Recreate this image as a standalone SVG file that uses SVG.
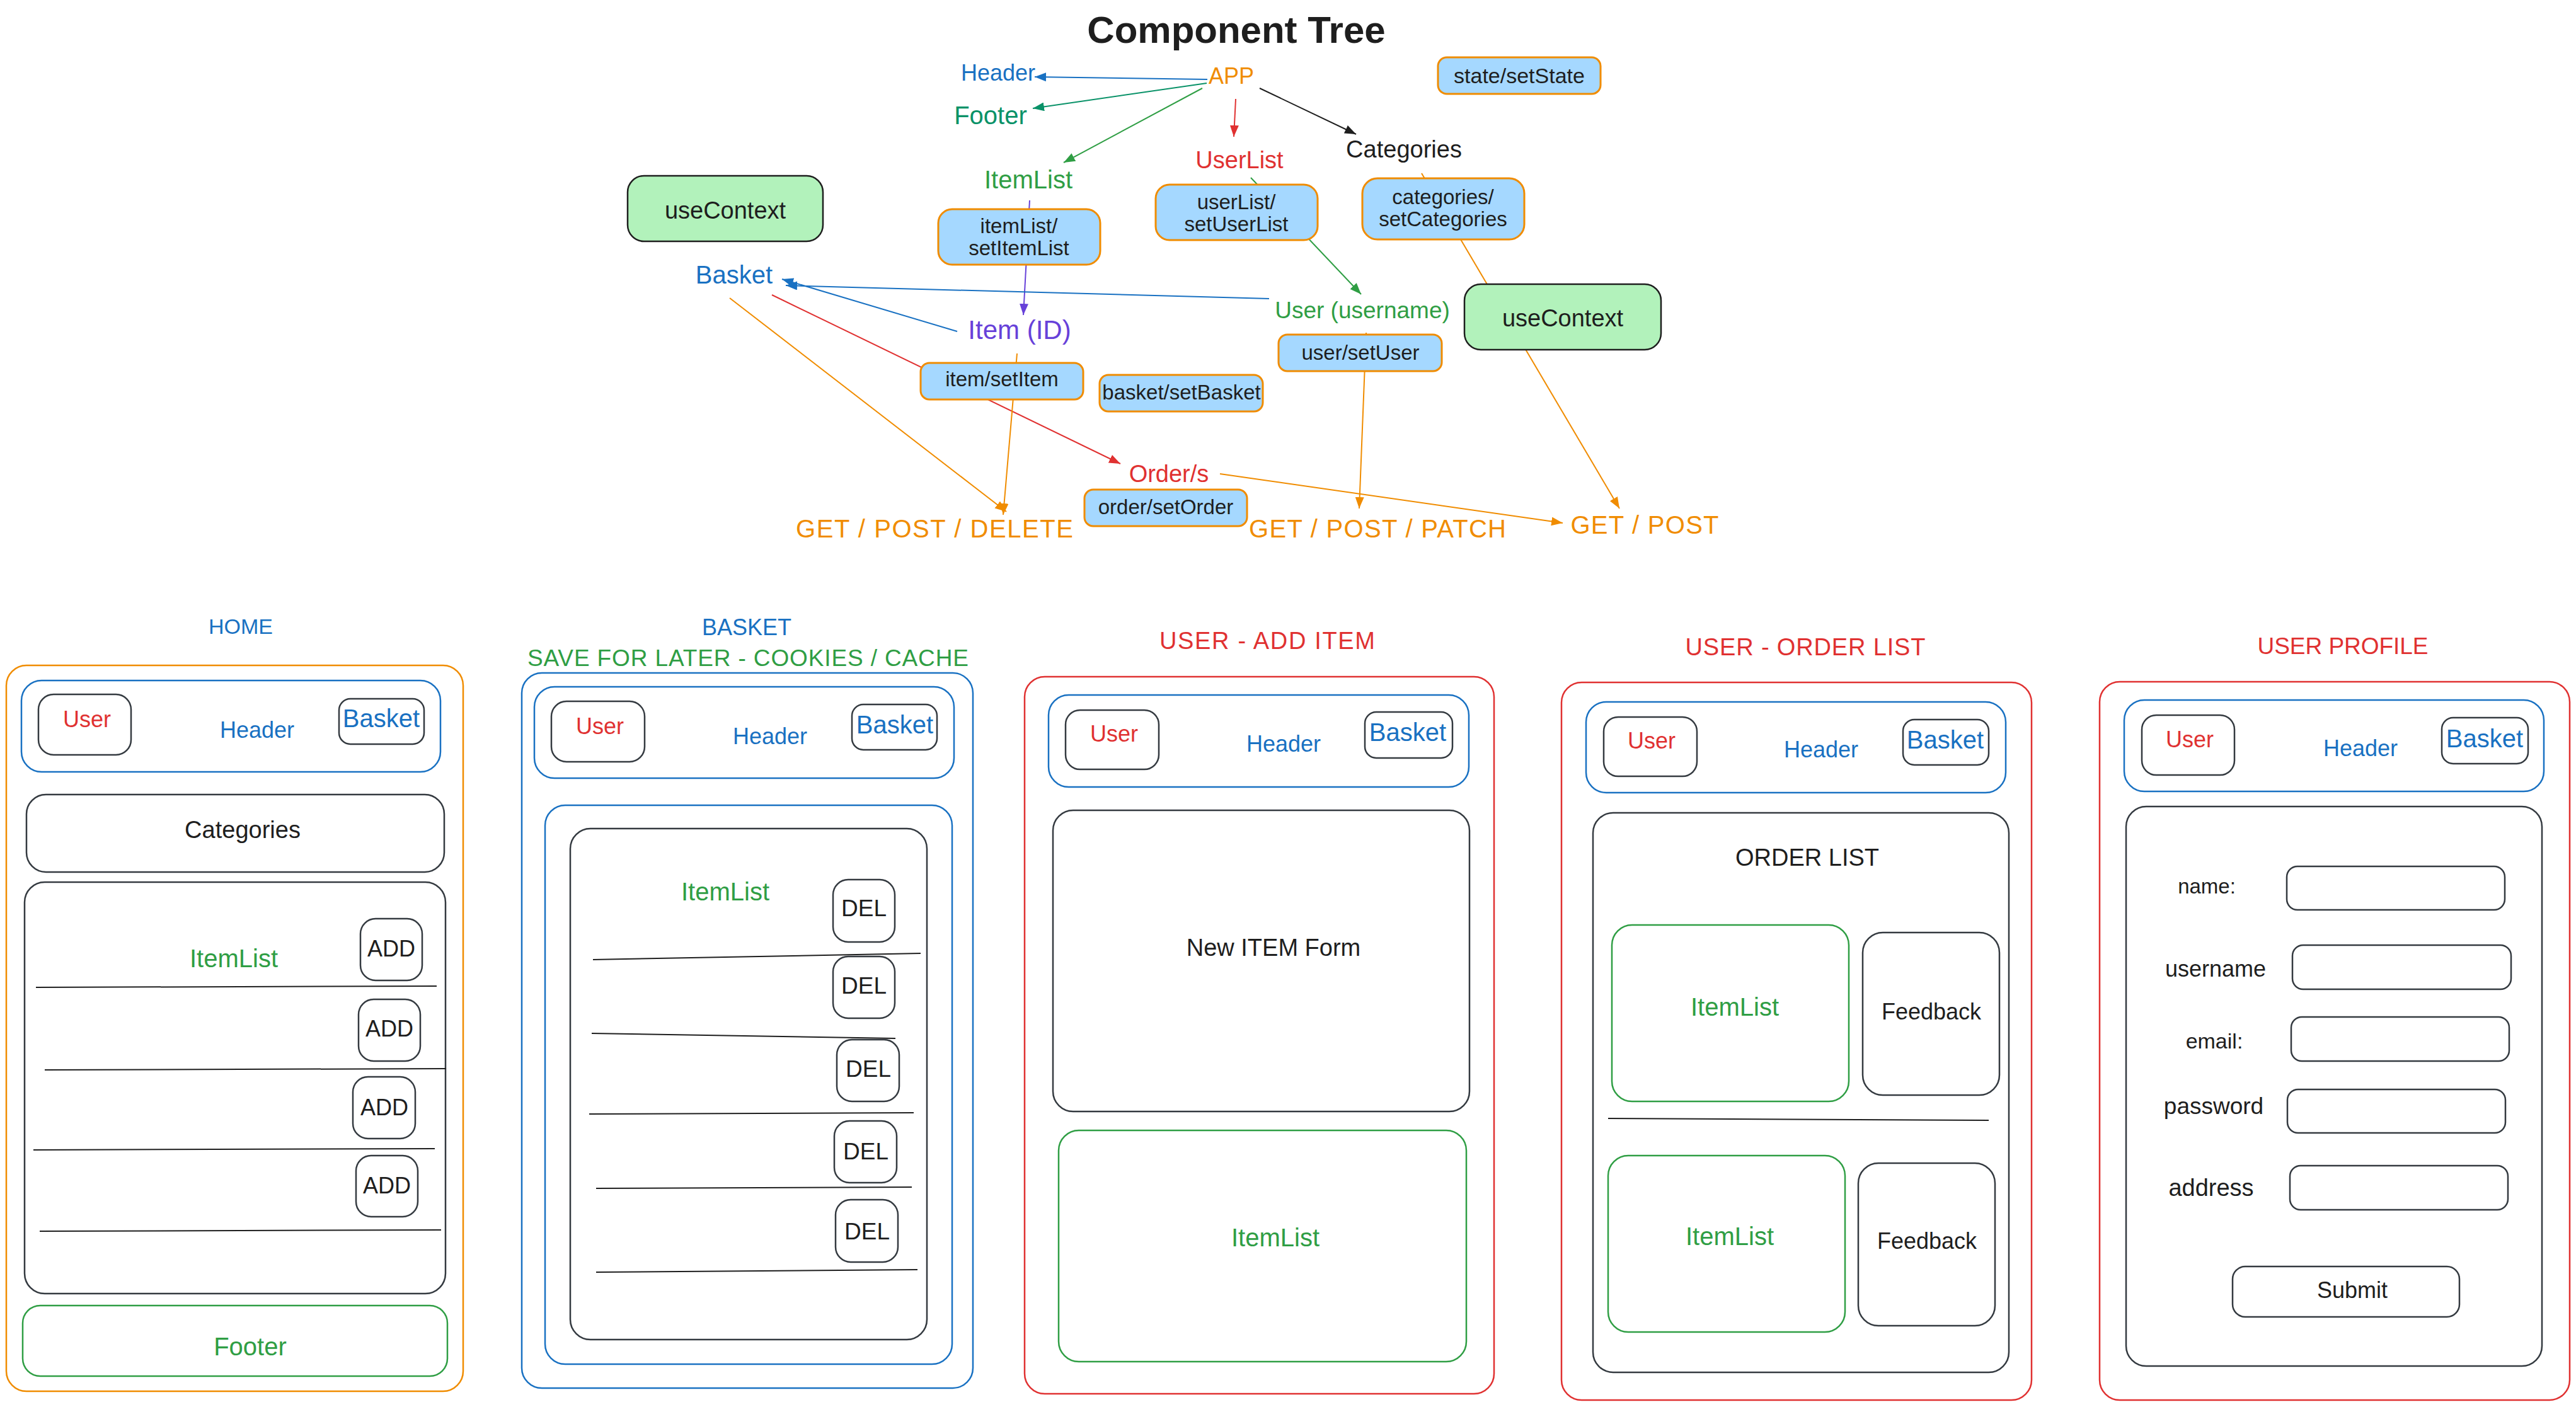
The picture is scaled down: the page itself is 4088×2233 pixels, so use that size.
<svg xmlns="http://www.w3.org/2000/svg" width="4088" height="2233" viewBox="0 0 4088 2233">
<style>
text{font-family:"Liberation Sans",Arial,sans-serif;text-anchor:middle;fill:#1e1e1e}
.blue{fill:#1971c2}.red{fill:#e03131}.green{fill:#2f9e44}.orange{fill:#f08c00}.teal{fill:#099268}.purple{fill:#6741d9}
.st{fill:#a5d8ff;stroke:#f08c00;stroke-width:3}
.ctx{fill:#b2f2bb;stroke:#1e1e1e;stroke-width:2.5}
.fo{fill:none;stroke:#f08c00;stroke-width:2.5}
.fb{fill:none;stroke:#1971c2;stroke-width:2.5}
.fr{fill:none;stroke:#e03131;stroke-width:2.5}
.fg{fill:none;stroke:#2f9e44;stroke-width:2.5}
.fd{fill:none;stroke:#343a40;stroke-width:2.5}
.ln{stroke:#1e1e1e;stroke-width:2;fill:none}
.cn{fill:none;stroke-width:2}
</style>
<defs>
<marker id="a-blue" viewBox="0 0 18 14" refX="18" refY="7" markerWidth="18" markerHeight="14" markerUnits="userSpaceOnUse" orient="auto"><path d="M0,0L18,7L0,14z" fill="#1971c2"/></marker>
<marker id="a-teal" viewBox="0 0 18 14" refX="18" refY="7" markerWidth="18" markerHeight="14" markerUnits="userSpaceOnUse" orient="auto"><path d="M0,0L18,7L0,14z" fill="#099268"/></marker>
<marker id="a-green" viewBox="0 0 18 14" refX="18" refY="7" markerWidth="18" markerHeight="14" markerUnits="userSpaceOnUse" orient="auto"><path d="M0,0L18,7L0,14z" fill="#2f9e44"/></marker>
<marker id="a-red" viewBox="0 0 18 14" refX="18" refY="7" markerWidth="18" markerHeight="14" markerUnits="userSpaceOnUse" orient="auto"><path d="M0,0L18,7L0,14z" fill="#e03131"/></marker>
<marker id="a-black" viewBox="0 0 18 14" refX="18" refY="7" markerWidth="18" markerHeight="14" markerUnits="userSpaceOnUse" orient="auto"><path d="M0,0L18,7L0,14z" fill="#1e1e1e"/></marker>
<marker id="a-purple" viewBox="0 0 18 14" refX="18" refY="7" markerWidth="18" markerHeight="14" markerUnits="userSpaceOnUse" orient="auto"><path d="M0,0L18,7L0,14z" fill="#6741d9"/></marker>
<marker id="a-orange" viewBox="0 0 18 14" refX="18" refY="7" markerWidth="18" markerHeight="14" markerUnits="userSpaceOnUse" orient="auto"><path d="M0,0L18,7L0,14z" fill="#f08c00"/></marker>
</defs>
<rect x="0" y="0" width="4088" height="2233" fill="#ffffff"/>

<text x="1962" y="68" font-size="60" font-weight="bold">Component Tree</text>

<g id="connectors">
<line class="cn" x1="1916" y1="126" x2="1642" y2="122" stroke="#1971c2" marker-end="url(#a-blue)"/>
<line class="cn" x1="1915" y1="132" x2="1639" y2="172" stroke="#099268" marker-end="url(#a-teal)"/>
<line class="cn" x1="1908" y1="140" x2="1688" y2="258" stroke="#2f9e44" marker-end="url(#a-green)"/>
<line class="cn" x1="1961" y1="157" x2="1958" y2="217" stroke="#e03131" marker-end="url(#a-red)"/>
<line class="cn" x1="1999" y1="140" x2="2152" y2="213" stroke="#1e1e1e" marker-end="url(#a-black)"/>
<line class="cn" x1="1634" y1="318" x2="1624" y2="500" stroke="#6741d9" marker-end="url(#a-purple)"/>
<line class="cn" x1="1985" y1="282" x2="2160" y2="467" stroke="#2f9e44" marker-end="url(#a-green)"/>
<line class="cn" x1="2256" y1="275" x2="2570" y2="807" stroke="#f08c00" marker-end="url(#a-orange)"/>
<line class="cn" x1="1519" y1="526" x2="1241" y2="443" stroke="#1971c2" marker-end="url(#a-blue)"/>
<line class="cn" x1="2014" y1="474" x2="1247" y2="453" stroke="#1971c2" marker-end="url(#a-blue)"/>
<line class="cn" x1="1225" y1="468" x2="1778" y2="736" stroke="#e03131" marker-end="url(#a-red)"/>
<line class="cn" x1="1158" y1="473" x2="1597" y2="812" stroke="#f08c00" marker-end="url(#a-orange)"/>
<line class="cn" x1="1614" y1="561" x2="1592" y2="817" stroke="#f08c00" marker-end="url(#a-orange)"/>
<line class="cn" x1="2168" y1="528" x2="2157" y2="807" stroke="#f08c00" marker-end="url(#a-orange)"/>
<line class="cn" x1="1936" y1="752" x2="2480" y2="830" stroke="#f08c00" marker-end="url(#a-orange)"/>
</g>

<g id="tree-nodes">
<g id="n-header"><text class="blue" x="1584" y="128" font-size="36">Header</text></g>
<g id="n-app"><text class="orange" x="1954" y="133" font-size="36">APP</text></g>
<g id="n-footer"><text class="teal" x="1572" y="197" font-size="40">Footer</text></g>
<g id="n-itemlist"><text class="green" x="1632" y="299" font-size="40">ItemList</text></g>
<g id="n-userlist"><text class="red" x="1967" y="267" font-size="38">UserList</text></g>
<g id="n-categories"><text x="2228" y="250" font-size="38">Categories</text></g>
<g id="n-basket"><text class="blue" x="1165" y="450" font-size="40">Basket</text></g>
<g id="n-item"><text class="purple" x="1618" y="538" font-size="42">Item (ID)</text></g>
<g id="n-user"><text class="green" x="2162" y="505" font-size="37">User (username)</text></g>
<g id="n-order"><text class="red" x="1855" y="765" font-size="38">Order/s</text></g>
<g id="n-get1"><text class="orange" x="1483" y="853" font-size="40" textLength="440" lengthAdjust="spacing">GET / POST / DELETE</text></g>
<g id="n-get2"><text class="orange" x="2186" y="853" font-size="40" textLength="408" lengthAdjust="spacing">GET / POST / PATCH</text></g>
<g id="n-get3"><text class="orange" x="2610" y="847" font-size="40" textLength="235" lengthAdjust="spacing">GET / POST</text></g>

<g id="s-state"><rect class="st" x="2282" y="91" width="258" height="58" rx="14"/><text x="2411" y="132" font-size="34">state/setState</text></g>
<g id="s-categories"><rect class="st" x="2162" y="283" width="257" height="97" rx="24"/><text x="2290" y="324" font-size="33">categories/</text><text x="2290" y="359" font-size="33">setCategories</text></g>
<g id="s-userlist"><rect class="st" x="1834" y="293" width="257" height="88" rx="22"/><text x="1962" y="332" font-size="33">userList/</text><text x="1962" y="367" font-size="33">setUserList</text></g>
<g id="s-itemlist"><rect class="st" x="1489" y="332" width="257" height="88" rx="22"/><text x="1617" y="370" font-size="33">itemList/</text><text x="1617" y="405" font-size="33">setItemList</text></g>
<g id="s-item"><rect class="st" x="1461" y="576" width="258" height="58" rx="14"/><text x="1590" y="613" font-size="33">item/setItem</text></g>
<g id="s-basket"><rect class="st" x="1745" y="595" width="259" height="58" rx="14"/><text x="1875" y="634" font-size="33">basket/setBasket</text></g>
<g id="s-user"><rect class="st" x="2029" y="531" width="259" height="58" rx="14"/><text x="2159" y="571" font-size="33">user/setUser</text></g>
<g id="s-order"><rect class="st" x="1721" y="777" width="258" height="58" rx="14"/><text x="1850" y="816" font-size="33">order/setOrder</text></g>
<g id="ctx-left"><rect class="ctx" x="996" y="279" width="310" height="104" rx="26"/><text x="1151" y="347" font-size="38">useContext</text></g>
<g id="ctx-right"><rect class="ctx" x="2324" y="451" width="312" height="104" rx="26"/><text x="2480" y="518" font-size="38">useContext</text></g>
</g>

<g id="screen-home">
<text class="blue" x="382" y="1006" font-size="34">HOME</text>
<rect class="fo" x="10" y="1056" width="725" height="1152" rx="32"/>
<g id="home-header"><rect class="fb" x="34" y="1080" width="665" height="145" rx="32"/><text class="blue" x="408" y="1171" font-size="36">Header</text></g>
<g id="home-user"><rect class="fd" x="61" y="1102" width="147" height="96" rx="24"/><text class="red" x="138" y="1154" font-size="36">User</text></g>
<g id="home-basket"><rect class="fd" x="538" y="1109" width="135" height="72" rx="18"/><text class="blue" x="605" y="1154" font-size="40">Basket</text></g>
<g id="home-categories"><rect class="fd" x="42" y="1261" width="663" height="123" rx="31"/><text x="385" y="1330" font-size="38">Categories</text></g>
<g id="home-itemlist"><rect class="fd" x="39" y="1400" width="668" height="653" rx="32"/><text class="green" x="371" y="1535" font-size="40">ItemList</text>
<line class="ln" x1="57" y1="1567" x2="693" y2="1565"/>
<line class="ln" x1="71" y1="1698" x2="708" y2="1696"/>
<line class="ln" x1="53" y1="1825" x2="690" y2="1823"/>
<line class="ln" x1="63" y1="1954" x2="700" y2="1952"/>
</g>
<g id="home-add1"><rect class="fd" x="572" y="1458" width="98" height="98" rx="24"/><text x="621" y="1518" font-size="36">ADD</text></g>
<g id="home-add2"><rect class="fd" x="569" y="1586" width="98" height="98" rx="24"/><text x="618" y="1645" font-size="36">ADD</text></g>
<g id="home-add3"><rect class="fd" x="560" y="1709" width="99" height="98" rx="24"/><text x="610" y="1770" font-size="36">ADD</text></g>
<g id="home-add4"><rect class="fd" x="565" y="1834" width="98" height="97" rx="24"/><text x="614" y="1894" font-size="36">ADD</text></g>
<g id="home-footer"><rect class="fg" x="36" y="2072" width="674" height="112" rx="28"/><text class="green" x="397" y="2151" font-size="40">Footer</text></g>
</g>

<g id="screen-basket">
<text class="blue" x="1185" y="1008" font-size="36">BASKET</text>
<text class="green" x="1187" y="1057" font-size="37" textLength="700" lengthAdjust="spacing">SAVE FOR LATER - COOKIES / CACHE</text>
<rect class="fb" x="828" y="1068" width="716" height="1135" rx="32"/>
<g id="basket-header"><rect class="fb" x="848" y="1090" width="666" height="145" rx="32"/><text class="blue" x="1222" y="1181" font-size="36">Header</text></g>
<g id="basket-user"><rect class="fd" x="875" y="1113" width="148" height="96" rx="24"/><text class="red" x="952" y="1165" font-size="36">User</text></g>
<g id="basket-basket"><rect class="fd" x="1352" y="1118" width="135" height="72" rx="18"/><text class="blue" x="1420" y="1164" font-size="40">Basket</text></g>
<rect class="fb" x="865" y="1278" width="646" height="887" rx="32"/>
<g id="basket-itemlist"><rect class="fd" x="905" y="1315" width="566" height="811" rx="32"/><text class="green" x="1151" y="1429" font-size="40">ItemList</text>
<line class="ln" x1="941" y1="1523" x2="1461" y2="1513"/>
<line class="ln" x1="939" y1="1640" x2="1421" y2="1648"/>
<line class="ln" x1="935" y1="1768" x2="1450" y2="1766"/>
<line class="ln" x1="946" y1="1886" x2="1447" y2="1884"/>
<line class="ln" x1="946" y1="2019" x2="1456" y2="2015"/>
</g>
<g id="basket-del1"><rect class="fd" x="1322" y="1396" width="98" height="99" rx="24"/><text x="1371" y="1454" font-size="37">DEL</text></g>
<g id="basket-del2"><rect class="fd" x="1322" y="1518" width="98" height="98" rx="24"/><text x="1371" y="1577" font-size="37">DEL</text></g>
<g id="basket-del3"><rect class="fd" x="1328" y="1650" width="99" height="98" rx="24"/><text x="1378" y="1709" font-size="37">DEL</text></g>
<g id="basket-del4"><rect class="fd" x="1324" y="1779" width="99" height="98" rx="24"/><text x="1374" y="1840" font-size="37">DEL</text></g>
<g id="basket-del5"><rect class="fd" x="1326" y="1904" width="99" height="99" rx="24"/><text x="1376" y="1967" font-size="37">DEL</text></g>
</g>

<g id="screen-additem">
<text class="red" x="2011" y="1030" font-size="38" textLength="342" lengthAdjust="spacing">USER - ADD ITEM</text>
<rect class="fr" x="1626" y="1074" width="745" height="1138" rx="32"/>
<g id="add-header"><rect class="fb" x="1664" y="1103" width="667" height="146" rx="32"/><text class="blue" x="2037" y="1193" font-size="36">Header</text></g>
<g id="add-user"><rect class="fd" x="1691" y="1127" width="148" height="94" rx="23"/><text class="red" x="1768" y="1177" font-size="36">User</text></g>
<g id="add-basket"><rect class="fd" x="2166" y="1130" width="139" height="73" rx="18"/><text class="blue" x="2234" y="1176" font-size="40">Basket</text></g>
<g id="add-form"><rect class="fd" x="1671" y="1286" width="661" height="478" rx="32"/><text x="2021" y="1517" font-size="38">New ITEM Form</text></g>
<g id="add-itemlist"><rect class="fg" x="1680" y="1794" width="647" height="367" rx="32"/><text class="green" x="2024" y="1978" font-size="40">ItemList</text></g>
</g>

<g id="screen-orderlist">
<text class="red" x="2865" y="1040" font-size="38" textLength="381" lengthAdjust="spacing">USER - ORDER LIST</text>
<rect class="fr" x="2478" y="1083" width="746" height="1139" rx="32"/>
<g id="ol-header"><rect class="fb" x="2517" y="1114" width="666" height="144" rx="32"/><text class="blue" x="2890" y="1202" font-size="36">Header</text></g>
<g id="ol-user"><rect class="fd" x="2545" y="1138" width="148" height="94" rx="23"/><text class="red" x="2621" y="1188" font-size="36">User</text></g>
<g id="ol-basket"><rect class="fd" x="3020" y="1142" width="136" height="72" rx="18"/><text class="blue" x="3087" y="1188" font-size="40">Basket</text></g>
<g id="ol-list"><rect class="fd" x="2528" y="1290" width="660" height="888" rx="32"/><text x="2868" y="1374" font-size="38">ORDER LIST</text>
<line class="ln" x1="2552" y1="1775" x2="3156" y2="1778"/></g>
<g id="ol-il1"><rect class="fg" x="2558" y="1468" width="376" height="280" rx="32"/><text class="green" x="2753" y="1612" font-size="40">ItemList</text></g>
<g id="ol-fb1"><rect class="fd" x="2956" y="1480" width="217" height="258" rx="32"/><text x="3065" y="1618" font-size="36">Feedback</text></g>
<g id="ol-il2"><rect class="fg" x="2552" y="1834" width="376" height="280" rx="32"/><text class="green" x="2745" y="1976" font-size="40">ItemList</text></g>
<g id="ol-fb2"><rect class="fd" x="2949" y="1846" width="217" height="258" rx="32"/><text x="3058" y="1982" font-size="36">Feedback</text></g>
</g>

<g id="screen-profile">
<text class="red" x="3718" y="1038" font-size="37" textLength="271" lengthAdjust="spacing">USER PROFILE</text>
<rect class="fr" x="3332" y="1082" width="746" height="1140" rx="32"/>
<g id="pr-header"><rect class="fb" x="3371" y="1111" width="666" height="145" rx="32"/><text class="blue" x="3746" y="1200" font-size="36">Header</text></g>
<g id="pr-user"><rect class="fd" x="3399" y="1135" width="147" height="95" rx="23"/><text class="red" x="3475" y="1186" font-size="36">User</text></g>
<g id="pr-basket"><rect class="fd" x="3875" y="1139" width="137" height="73" rx="18"/><text class="blue" x="3943" y="1186" font-size="40">Basket</text></g>
<g id="pr-form"><rect class="fd" x="3374" y="1280" width="660" height="888" rx="32"/>
<text x="3502" y="1418" font-size="33">name:</text>
<text x="3516" y="1550" font-size="36">username</text>
<text x="3514" y="1664" font-size="34">email:</text>
<text x="3513" y="1768" font-size="37">password</text>
<text x="3509" y="1898" font-size="38">address</text>
</g>
<g id="pr-in1"><rect class="fd" x="3629" y="1375" width="346" height="69" rx="17"/></g>
<g id="pr-in2"><rect class="fd" x="3638" y="1500" width="347" height="70" rx="17"/></g>
<g id="pr-in3"><rect class="fd" x="3636" y="1614" width="346" height="70" rx="17"/></g>
<g id="pr-in4"><rect class="fd" x="3630" y="1729" width="346" height="69" rx="17"/></g>
<g id="pr-in5"><rect class="fd" x="3634" y="1850" width="346" height="70" rx="17"/></g>
<g id="pr-submit"><rect class="fd" x="3543" y="2010" width="360" height="80" rx="20"/><text x="3733" y="2060" font-size="36">Submit</text></g>
</g>
</svg>
